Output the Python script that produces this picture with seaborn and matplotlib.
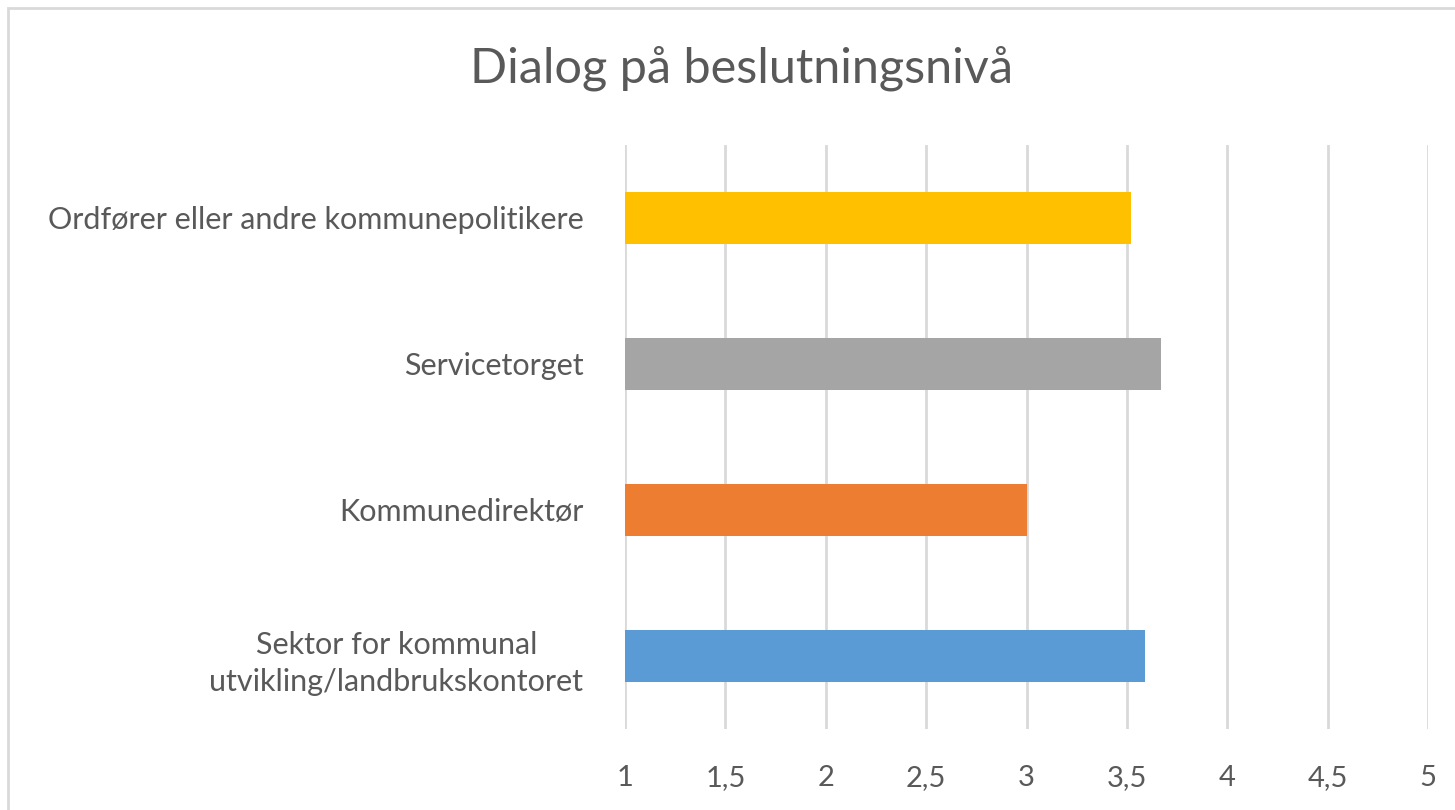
import matplotlib
matplotlib.use("Agg")
import matplotlib.pyplot as plt
import seaborn as sns
import pandas as pd
from matplotlib.patches import Rectangle

categories = [
    "Ordfører eller andre kommunepolitikere",
    "Servicetorget",
    "Kommunedirektør",
    "Sektor for kommunal\nutvikling/landbrukskontoret",
]
values = [3.52, 3.67, 3.00, 3.59]
colors = ["#FFC000", "#A5A5A5", "#ED7D31", "#5B9BD5"]
xticks = [1, 1.5, 2, 2.5, 3, 3.5, 4, 4.5, 5]
xticklabels = ["1", "1,5", "2", "2,5", "3", "3,5", "4", "4,5", "5"]
title = "Dialog på beslutningsnivå"

sns.set_theme(style="white")
plt.rcParams["font.family"] = ["Lato", "DejaVu Sans"]

df = pd.DataFrame({"cat": categories, "val": values})

fig = plt.figure(figsize=(14.55, 8.10), dpi=100)
ax = fig.add_axes([625 / 1455, 1 - 729 / 810, (1428 - 625) / 1455, (729 - 145) / 810])

sns.barplot(data=df, y="cat", x="val", hue="cat", palette=colors, order=categories,
            hue_order=categories, orient="h", width=0.36, legend=False, ax=ax,
            saturation=1, edgecolor="none")

ax.set_xlim(1, 5)
ax.set_xticks(xticks)
ax.set_xticklabels(xticklabels)
ax.set_xlabel("")
ax.set_ylabel("")
ax.grid(axis="x", color="#D9D9D9", linewidth=2)
ax.grid(axis="y", visible=False)
ax.set_axisbelow(True)
for s in ax.spines.values():
    s.set_visible(False)
ax.tick_params(axis="both", length=0, colors="#595959")
ax.tick_params(axis="x", pad=26, labelsize=21)
ax.tick_params(axis="y", pad=30, labelsize=22)
for lbl in ax.get_yticklabels():
    lbl.set_multialignment("center")
    lbl.set_linespacing(1.4)

fig.text(742 / 1455, 1 - 68 / 810, title, ha="center", va="center",
         fontsize=35, color="#595959")

fig.patches.append(Rectangle((8 / 1455, -0.05), 1.2, 1 - 8 / 810 + 0.05,
                             transform=fig.transFigure, fill=False,
                             edgecolor="#D9D9D9", linewidth=2))

fig.savefig("out.png", dpi=100, facecolor="white")
